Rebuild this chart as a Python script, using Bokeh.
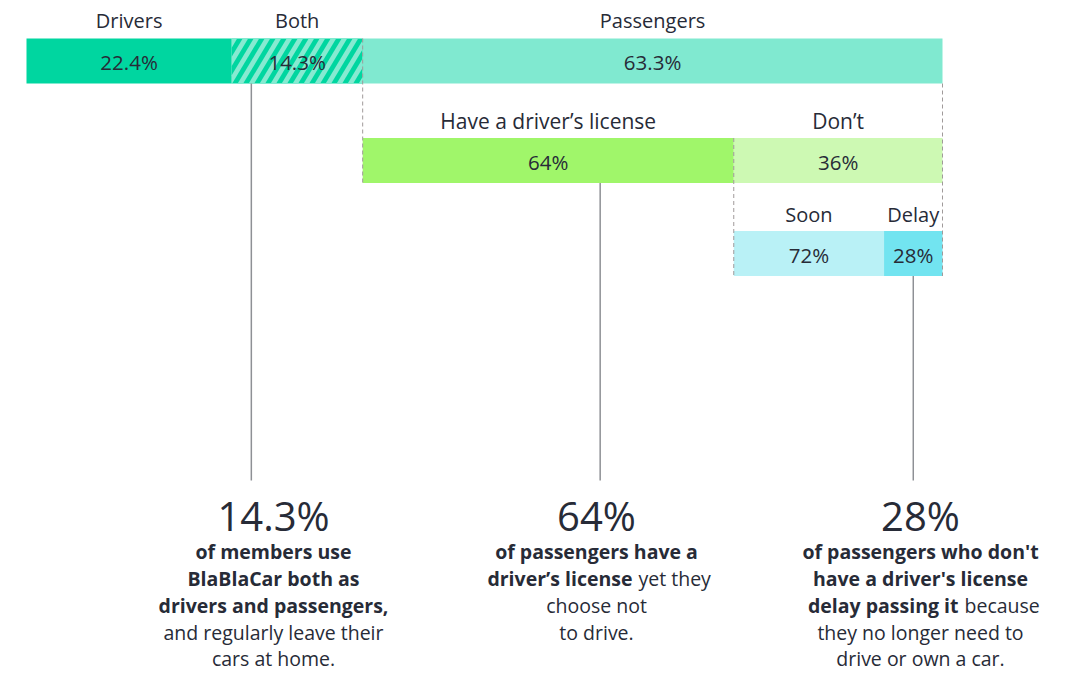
from bokeh.plotting import figure
from bokeh.models import Range1d
from bokeh.core.properties import value
from bokeh.embed import file_html
from bokeh.resources import INLINE

# ---- data ----
top_labels = ["Drivers", "Both", "Passengers"]
top_values = [22.4, 14.3, 63.3]
license_labels = ["Have a driver\u2019s license", "Don\u2019t"]
license_values = [64, 36]
delay_labels = ["Soon", "Delay"]
delay_values = [72, 28]
big_numbers = ["14.3%", "64%", "28%"]

# ---- layout (screen pixels) ----
BAR_L, BAR_W = 26, 916
PX = BAR_W / 100.0
def X(px):
    return (px - BAR_L) / PX
def PXX(x):
    return BAR_L + x * PX

FONT = value("Open Sans")
TXT = "#272B37"
W, H = 1062, 678

p = figure(width=W, height=H, x_range=Range1d(X(0), X(W)), y_range=Range1d(H, 0),
           output_backend="svg", toolbar_location=None, min_border=0,
           x_axis_location=None, y_axis_location=None)
p.grid.visible = False
p.outline_line_color = None
p.background_fill_color = "white"

# ---- compute segments from data ----
top_left = [0, top_values[0], top_values[0] + top_values[1]]
top_right = [top_values[0], top_values[0] + top_values[1], 100]
pass_l, pass_r = top_left[2], 100
pw = pass_r - pass_l
lic_split = pass_l + pw * license_values[0] / 100
lic_left = [pass_l, lic_split]
lic_right = [lic_split, pass_r]
dw = pass_r - lic_split
del_split = lic_split + dw * delay_values[0] / 100
del_left = [lic_split, del_split]
del_right = [del_split, pass_r]

Y_TOP, Y_LIC, Y_DEL = 60.5, 160, 253
BH = 45

# top bar
p.hbar(y=[Y_TOP], left=[top_left[0]], right=[top_right[0]], height=BH, fill_color="#00D6A0", line_color=None)
p.hbar(y=[Y_TOP], left=[top_left[1]], right=[top_right[1]], height=BH, fill_color="#00D6A0", line_color=None)
p.hbar(y=[Y_TOP], left=[top_left[2]], right=[top_right[2]], height=BH, fill_color="#80E9D0", line_color=None)

# diagonal stripes ("Both" hatch), clipped to the segment
def clip(poly, a, b, t, bt):
    def clip_edge(pts, inside, inter):
        out = []
        n = len(pts)
        for i in range(n):
            cur, prev = pts[i], pts[i - 1]
            if inside(cur):
                if not inside(prev):
                    out.append(inter(prev, cur))
                out.append(cur)
            elif inside(prev):
                out.append(inter(prev, cur))
        return out
    def ix(xc):
        return lambda p0, p1: (xc, p0[1] + (p1[1] - p0[1]) * (xc - p0[0]) / (p1[0] - p0[0]))
    def iy(yc):
        return lambda p0, p1: (p0[0] + (p1[0] - p0[0]) * (yc - p0[1]) / (p1[1] - p0[1]), yc)
    pts = poly
    pts = clip_edge(pts, lambda q: q[0] >= a, ix(a)) if pts else pts
    pts = clip_edge(pts, lambda q: q[0] <= b, ix(b)) if pts else pts
    pts = clip_edge(pts, lambda q: q[1] >= t, iy(t)) if pts else pts
    pts = clip_edge(pts, lambda q: q[1] <= bt, iy(bt)) if pts else pts
    return pts

a, b = PXX(top_left[1]), PXX(top_right[1])
t, bt = Y_TOP - BH / 2, Y_TOP + BH / 2
slant, period, sw = 0.6 * BH, 11.0, 5.5
xs, ys = [], []
c = a - slant - period
while c < b + period:
    poly = [(c, bt), (c + sw, bt), (c + sw + slant, t), (c + slant, t)]
    cp = clip(poly, a, b, t, bt)
    if len(cp) >= 3:
        xs.append([X(q[0]) for q in cp])
        ys.append([q[1] for q in cp])
    c += period
p.patches(xs=xs, ys=ys, fill_color="#86EAD1", line_color=None)

# license bar
p.hbar(y=[Y_LIC, Y_LIC], left=lic_left, right=lic_right, height=BH, fill_color=["#A0F66A", "#CDF9B3"], line_color=None)
# delay bar
p.hbar(y=[Y_DEL, Y_DEL], left=del_left, right=del_right, height=BH, fill_color=["#B9F1F6", "#72E4F0"], line_color=None)

# dashed guides
p.segment(x0=[pass_l, pass_r, lic_split], y0=[Y_TOP - BH / 2, Y_TOP + BH / 2, Y_LIC - BH / 2],
          x1=[pass_l, pass_r, lic_split], y1=[Y_LIC + BH / 2, Y_DEL + BH / 2, Y_DEL + BH / 2],
          line_color="#A09A9A", line_width=1, line_dash="4 3")

# leader lines
LEAD_END = 480
lead_x = [top_left[1] + 0.15 * top_values[1], lic_left[0] + 0.64 * (lic_right[0] - lic_left[0]),
          (del_left[1] + del_right[1]) / 2]
p.segment(x0=lead_x, y0=[Y_TOP + BH / 2, Y_LIC + BH / 2, Y_DEL + BH / 2],
          x1=lead_x, y1=[LEAD_END] * 3, line_color="#8E9095", line_width=1.5)

def mid(a, b):
    return [(x + y) / 2 for x, y in zip(a, b)]

def txt(xs, ys, texts, size, bold=False, align="center"):
    p.text(x=xs, y=ys, text=texts, text_align=align, text_baseline="middle", text_font=FONT,
           text_font_size=size, text_color=TXT, text_font_style="bold" if bold else "normal")

# category labels
txt(mid(top_left, top_right), [20] * 3, top_labels, "20px")
txt(mid(lic_left, lic_right), [120] * 2, license_labels, "21px")
txt(mid(del_left, del_right), [214] * 2, delay_labels, "20px")
# values in bars
txt(mid(top_left, top_right), [Y_TOP + 1] * 3, [f"{v}%" for v in top_values], "20.5px")
txt(mid(lic_left, lic_right), [Y_LIC + 1] * 2, [f"{v}%" for v in license_values], "20.5px")
txt(mid(del_left, del_right), [Y_DEL + 1] * 2, [f"{v}%" for v in delay_values], "20.5px")

# callouts
cx = [X(273), X(596), X(920)]
txt(cx, [515] * 3, big_numbers, "40px")
LY = [551, 578, 605, 632, 658]
FS = "19.5px"

def pair(xc, y, bold_part, reg_part, split_off, gap=6):
    txt([xc + split_off / PX], [y], [bold_part], FS, bold=True, align="right")
    txt([xc + (split_off + gap) / PX], [y], [reg_part], FS, align="left")

# block 1
txt([cx[0]] * 3, LY[:3], ["of members use", "BlaBlaCar both as", "drivers and passengers,"], FS, bold=True)
txt([cx[0]] * 2, LY[3:], ["and regularly leave their", "cars at home."], FS)
# block 2
txt([cx[1]], [LY[0]], ["of passengers have a"], FS, bold=True)
pair(cx[1], LY[1], "driver\u2019s license", "yet they", 36)
txt([cx[1]] * 2, LY[2:4], ["choose not", "to drive."], FS)
# block 3
txt([cx[2]] * 2, LY[:2], ["of passengers who don't", "have a driver's license"], FS, bold=True)
pair(cx[2], LY[2], "delay passing it", "because", 38)
txt([cx[2]] * 2, LY[3:], ["they no longer need to", "drive or own a car."], FS)

open("out.html", "w").write(file_html(p, INLINE))
